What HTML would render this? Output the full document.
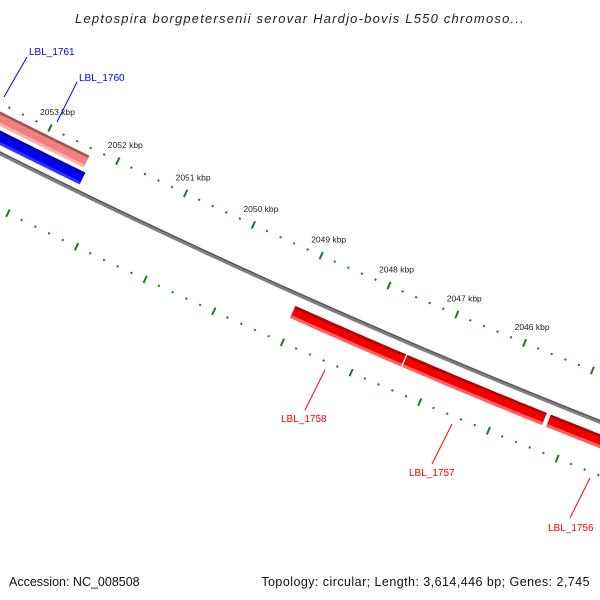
<!DOCTYPE html>
<html><head><meta charset="utf-8">
<style>
html,body{margin:0;padding:0;background:#fff;}
svg{display:block;font-family:"Liberation Sans","DejaVu Sans",sans-serif;}
</style></head>
<body>
<svg id="map" width="600" height="600" viewBox="0 0 600 600">
<rect width="600" height="600" fill="#fff"/>
<text x="300" y="23" text-anchor="middle" font-size="13" font-style="italic" letter-spacing="1.2" fill="#222">Leptospira borgpetersenii serovar Hardjo-bovis L550 chromoso...</text>
<text x="9" y="586" font-size="12.5" fill="#111">Accession: NC_008508</text>
<text x="590" y="586" text-anchor="end" font-size="12.5" letter-spacing="0.45" fill="#111">Topology: circular; Length: 3,614,446 bp; Genes: 2,745</text>
<g id="layer"></g>
</svg>
<script>
// data (kbp positions)
const tickKbp = [2053, 2052, 2051, 2050, 2049, 2048, 2047, 2046];
const tickLabels = ["2053 kbp","2052 kbp","2051 kbp","2050 kbp","2049 kbp","2048 kbp","2047 kbp","2046 kbp"];
const featNames = ["LBL_1761","LBL_1760","LBL_1758","LBL_1757","LBL_1756"];
const featStart = [2053.7, 2053.6, 2049.04, 2047.4, 2045.3];
const featEnd   = [2052.37, 2052.32, 2047.42, 2045.36, 2044.0];
const featStrand = [-1, 1, -1, -1, -1];

const NS = "http://www.w3.org/2000/svg";
const layer = document.getElementById('layer');
function k(kbp){ return 2053 - kbp; }
function pt(kk, d){
  const px = 50 + 67.8*kk, py = 128 + 33.5*kk - 0.4*kk*kk;
  let tx = 67.8, ty = 33.5 - 0.8*kk; const n = Math.hypot(tx,ty); tx/=n; ty/=n;
  return [px - ty*d, py + tx*d];
}
function mk(tag, attrs){ const e = document.createElementNS(NS, tag); for (const a in attrs) e.setAttribute(a, attrs[a]); layer.appendChild(e); return e; }
function band(k0, k1, d0, d1){
  const pts = [];
  for (let i=0;i<=20;i++){ pts.push(pt(k0+(k1-k0)*i/20, d0)); }
  for (let i=20;i>=0;i--){ pts.push(pt(k0+(k1-k0)*i/20, d1)); }
  return pts.map(p=>p[0].toFixed(1)+","+p[1].toFixed(1)).join(" ");
}
// backbone
const bb = mk('polygon', {points: band(-1.2, 9.5, 43, 47), fill:'#808080'});


const bb2 = mk('polygon', {points: band(-1.2, 9.5, 43, 44.3), fill:'#555'});



// ticks (two rows)
[0, 95].forEach((d, row) => {
  for (let m = -5; m <= 50; m++){
    const kk = m/5; const major = (m%5===0);
    const a = pt(kk, d - (major?4:1)), b = pt(kk, d + (major?4:1));
    const t = mk('line', {x1:a[0],y1:a[1],x2:b[0],y2:b[1],stroke:'#1a7a1a','stroke-width':2});
    
    
  }
});
tickKbp.forEach((v,i)=>{
  const p = pt(k(v), 0);
  const t = mk('text', {x:p[0]-10, y:p[1]-13, 'font-size':'8.5', fill:'#222'});
  t.textContent = tickLabels[i];
  
  
});

const leaders = [[[4,97],[27,57]],[[57,122],[77,82]],[[325,370],[305,410]],[[452,424],[432,464]],[[590,478],[570,518]]];
const labelPos = [[29,55],[79,81],[281,422],[409,476],[548,531]];

// features
featNames.forEach((name,i)=>{
  let k0 = k(featStart[i]), k1 = k(featEnd[i]);
  let d, col, dark, light;
  if (i===0){ d=14; col='#f08080'; dark='#a85050'; light='#f8b0b0'; }
  else if (i===1){ d=31; col='#0000ee'; dark='#0000aa'; light='#3030ff'; }
  else { d=63; col='#f00000'; dark='#b00000'; light='#ff6060'; }
  const g = mk('polygon', {points: band(k0, k1, d-6.5, d+6.5), fill: col});
  
  
  const top = mk('polygon', {points: band(k0, k1, d-6.5, d-4), fill: dark});
  
  
  const bot = mk('polygon', {points: band(k0, k1, d+3.5, d+6.5), fill: light});
  
  
  const tc = i<2 ? '#0000ff' : '#ff0000';
  const a = leaders[i][0], b = leaders[i][1];
  const l = mk('line',{x1:a[0],y1:a[1],x2:b[0],y2:b[1],stroke:tc,'stroke-width':1});
  
  
  const t = mk('text', {x:labelPos[i][0], y:labelPos[i][1], 'font-size':'10', fill:tc});
  t.textContent = name;
  
  
});
</script>
</body></html>
